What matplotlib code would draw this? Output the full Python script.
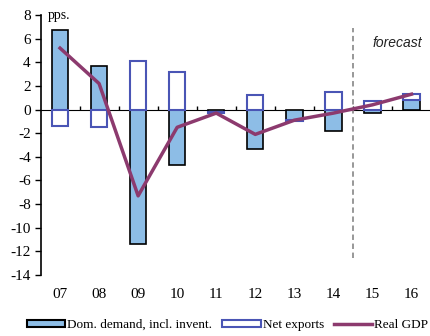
import numpy as np
import matplotlib.pyplot as plt
from matplotlib.patches import Patch
from matplotlib.lines import Line2D

plt.rcParams['font.family'] = ['Liberation Serif', 'DejaVu Serif']
plt.rcParams['axes.unicode_minus'] = False

years = ['07', '08', '09', '10', '11', '12', '13', '14', '15', '16']
dom_demand = [6.7, 3.7, -11.4, -4.7, -0.2, -3.3, -0.9, -1.8, -0.25, 0.85]
net_exports = [-1.4, -1.5, 4.1, 3.2, -0.1, 1.2, -0.05, 1.45, 0.75, 0.5]
real_gdp = [5.2, 2.2, -7.3, -1.5, -0.3, -2.1, -0.9, -0.3, 0.4, 1.3]

fill_blue = '#8dbde6'
edge_blue = '#4a55b5'
gdp_col = '#8c3a6e'

x = np.arange(len(years))
dom = np.array(dom_demand)
net = np.array(net_exports)
# stack like excel: positives on positives, negatives on negatives
net_bottom = np.where(np.sign(net) == np.sign(dom), dom, 0.0)

fig = plt.figure(figsize=(4.31, 3.36), dpi=100)
ax = fig.add_axes([0.094, 0.1815, 0.906, 0.7738])

w = 0.42
ax.bar(x, dom, w, color=fill_blue, edgecolor='black', linewidth=1.2, zorder=2)
ax.bar(x, net, w, bottom=net_bottom, color='white', edgecolor=edge_blue,
       linewidth=1.5, zorder=2)
ax.plot(x, real_gdp, color=gdp_col, linewidth=2.5, zorder=4)

ax.set_xlim(-0.5, len(years) - 0.5)
ax.set_ylim(-14, 8)
ax.set_yticks(np.arange(-14, 9, 2))
ax.tick_params(axis='y', direction='out', length=4, width=1, labelsize=11, pad=3)
ax.set_xticks(x)
ax.set_xticklabels(years)
ax.tick_params(axis='x', length=0, labelsize=11, pad=9)

for s in ['top', 'right', 'bottom']:
    ax.spines[s].set_visible(False)
ax.spines['left'].set_linewidth(1.2)

# zero line with small upward ticks between the years
ymin, ymax = ax.get_ylim()
zero_ax = ax.secondary_xaxis((0 - ymin) / (ymax - ymin))
zero_ax.set_xticks(np.append(x[:-1] + 0.5, len(years) - 0.5))
zero_ax.tick_params(which='both', bottom=True, top=False, direction='in', length=3,
                    width=1, labelbottom=False, labeltop=False)
zero_ax.spines['bottom'].set_linewidth(1.2)
zero_ax.spines['bottom'].set_zorder(3)

# forecast divider
ax.vlines(7.5, -12.6, 6.9, colors='#909090', linestyles=(0, (3, 2)), linewidth=1.3, zorder=1)
ax.text(8.0, 5.6, 'forecast', fontsize=10, style='italic', family='Liberation Sans',
        color='#222222', va='center')
ax.text(-0.32, 8, 'pps.', fontsize=10, va='center', ha='left')

handles = [
    Patch(facecolor=fill_blue, edgecolor='black', linewidth=1.5),
    Patch(facecolor='white', edgecolor=edge_blue, linewidth=1.5),
    Line2D([], [], color=gdp_col, linewidth=2.5),
]
labels = ['Dom. demand, incl. invent.', 'Net exports', 'Real GDP']
fig.legend(handles, labels, loc='center', bbox_to_anchor=(0.528, 0.033), ncol=3,
           frameon=False, fontsize=9.5, handlelength=2.9, handleheight=0.45,
           handletextpad=0.15, columnspacing=0.75, borderaxespad=0)

fig.savefig('out.png', dpi=100)
